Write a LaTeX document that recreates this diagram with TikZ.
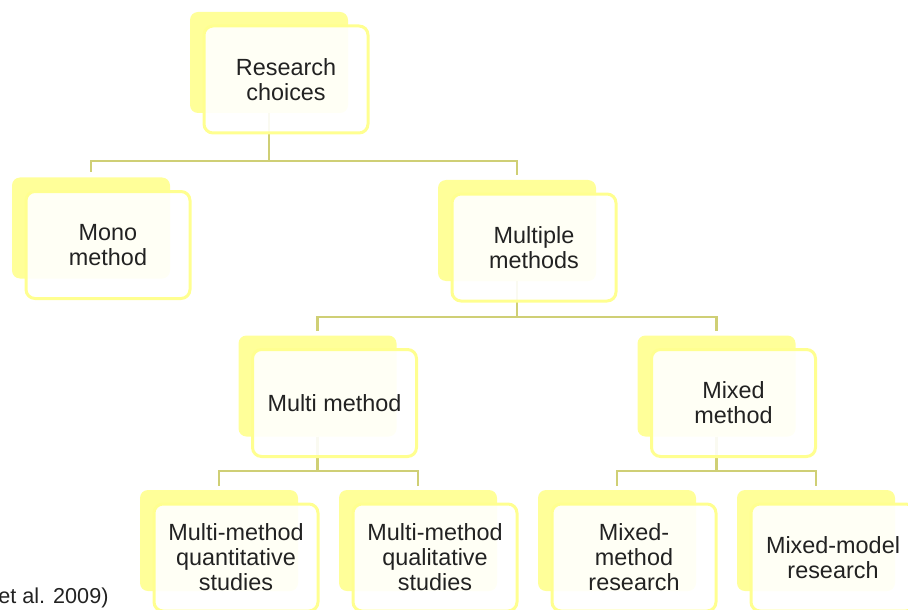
\documentclass[tikz,border=0pt]{standalone}
\usepackage{fontspec}
\setmainfont{Liberation Sans}
\definecolor{boxyellow}{HTML}{FFFF99}
\definecolor{frameyellow}{HTML}{FFFF90}
\definecolor{connolive}{HTML}{CFCF75}
\definecolor{txtgray}{HTML}{222222}
\begin{document}
\begin{tikzpicture}[x=0.5pt,y=-0.5pt,
  backbox/.style={draw=none,fill=boxyellow,rounded corners=4pt,minimum width=79pt,minimum height=50.5pt,inner sep=0pt},
  frontbox/.style={draw=frameyellow,line width=1.5pt,fill=white,fill opacity=0.9,text opacity=1,rounded corners=4.5pt,minimum width=82pt,minimum height=53.5pt,inner sep=0pt,align=center,text=txtgray,font=\fontsize{11.7}{12.5}\selectfont},
  conn/.style={draw=connolive,line width=1.4pt}]
\clip (0,0) rectangle (908,609);
% back boxes
\node[backbox] (rc) at (269,62.5) {};
\node[backbox] (mono) at (91,228) {};
\node[backbox] (mm) at (517,230.5) {};
\node[backbox] (multi) at (317.5,386) {};
\node[backbox] (mixed) at (716.5,386) {};
\node[backbox] (q1) at (219,540.5) {};
\node[backbox] (q2) at (418,540.5) {};
\node[backbox] (q3) at (617,540.5) {};
\node[backbox] (q4) at (816,540.5) {};
% bus points
\coordinate (b1) at (269,161);
\coordinate (b2) at (517,317);
\coordinate (b3) at (317.5,471);
\coordinate (b4) at (716.5,471);
% connectors
\draw[conn] (rc.south) -- (b1);
\draw[conn,shorten >=2.5pt] (b1) -| (mono.north);
\draw[conn,shorten >=2.5pt] (b1) -| (mm.north);
\draw[conn] (mm.south) -- (b2);
\draw[conn,shorten >=2pt] (b2) -| (multi.north);
\draw[conn,shorten >=2pt] (b2) -| (mixed.north);
\draw[conn] (multi.south) -- (b3);
\draw[conn,shorten >=2pt] (b3) -| (q1.north);
\draw[conn,shorten >=2pt] (b3) -| (q2.north);
\draw[conn] (mixed.south) -- (b4);
\draw[conn,shorten >=2pt] (b4) -| (q3.north);
\draw[conn,shorten >=2pt] (b4) -| (q4.north);
% front boxes
\node[frontbox] (rcf) at ([shift={(17,17)}]rc.center) {Research\\choices};
\node[frontbox] (monof) at ([shift={(17,17)}]mono.center) {Mono\\method};
\node[frontbox] (mmf) at ([shift={(17,17)}]mm.center) {Multiple\\methods};
\node[frontbox] (multif) at ([shift={(17,17)}]multi.center) {Multi method};
\node[frontbox] (mixedf) at ([shift={(17,17)}]mixed.center) {Mixed\\method};
\node[frontbox] (q1f) at ([shift={(17,17)}]q1.center) {Multi-method\\quantitative\\studies};
\node[frontbox] (q2f) at ([shift={(17,17)}]q2.center) {Multi-method\\qualitative\\studies};
\node[frontbox] (q3f) at ([shift={(17,17)}]q3.center) {Mixed-\\method\\research};
\node[frontbox] (q4f) at ([shift={(17,17)}]q4.center) {Mixed-model\\research};
% citation fragment
\node[anchor=base west,inner sep=0pt,text=txtgray,font=\fontsize{10.8}{12}\selectfont] (cite) at (-2,603) {et al. 2009)};
\end{tikzpicture}
\end{document}
